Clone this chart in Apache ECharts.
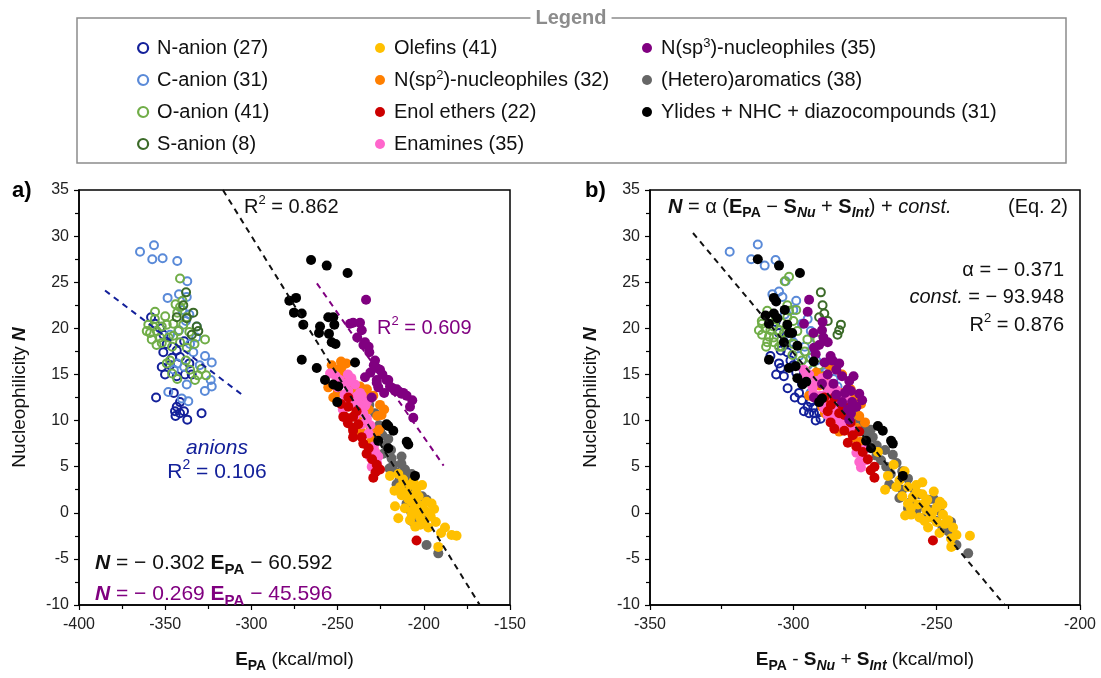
<!DOCTYPE html>
<html><head><meta charset="utf-8">
<script src="https://cdn.jsdelivr.net/npm/echarts@6/dist/echarts.min.js"></script>
<style>html,body{margin:0;padding:0;background:#fff}#c{width:1101px;height:678px}</style>
</head><body><div id="c"></div>
<script>
// ---------- axis ranges / ticks ----------
const xRangeA = [-400, -150];
const xRangeB = [-350, -200];
const yRange = [-10, 35];
const xStep = 50, yStep = 5;

// ---------- series names ----------
const names = ['N-anion (27)','C-anion (31)','O-anion (41)','S-anion (8)',
  'Olefins (41)','N(sp2)-nucleophiles (32)','Enol ethers (22)','Enamines (35)',
  'N(sp3)-nucleophiles (35)','(Hetero)aromatics (38)','Ylides + NHC + diazocompounds (31)'];

// ---------- panel a data [E_PA, N] ----------
const aNanion = [[-358.2,21.2],[-355.9,20.5],[-351,19.3],[-349.1,18.3],[-351.1,17.4],[-343.3,17.6],[-341.4,16.9],[-352,15.8],[-347.2,16.0],[-350.1,15.0],[-343.3,14.8],[-338.5,15.0],[-334.6,15.0],[-355.3,12.5],[-341.4,12.0],[-343.3,11.5],[-344.3,11.0],[-341.4,10.8],[-339.1,11.0],[-337.2,10.1],[-328.9,10.8],[-344,10.5],[-346,16.8],[-339,18.6],[-353,20.0],[-336,16.2],[-345,13.0]];
const aCanion = [[-364.6,28.3],[-356.5,29.0],[-357.5,27.5],[-351.5,27.6],[-343,27.3],[-337.2,25.1],[-348.6,23.3],[-342,23.7],[-337.5,23.4],[-333.7,17.4],[-326.9,17.0],[-323,16.3],[-343,16.2],[-337.5,13.9],[-327,13.2],[-323,13.7],[-323.6,14.4],[-348.2,13.1],[-336.6,12.1],[-340.4,12.4],[-347.2,19.3],[-331.7,20.2],[-335.6,18.3],[-340,22.0],[-339,15.8],[-345,15.5],[-332,19.0],[-338,20.8],[-330,16.0],[-342,19.8],[-336,21.5]];
const aOanion = [[-341.4,25.4],[-355.9,21.8],[-341.4,22.3],[-343,21.7],[-359.8,20.4],[-358.8,19.5],[-357.8,18.8],[-354.9,19.7],[-352,20.2],[-349.1,20.4],[-345.3,20.5],[-342.4,19.7],[-339.5,20.4],[-337.5,21.2],[-345.3,19.2],[-352,18.4],[-341.4,18.5],[-337.5,17.9],[-326.9,18.8],[-347.2,16.5],[-349.1,16.2],[-335.6,15.5],[-332.7,14.4],[-326.3,14.9],[-360.7,19.7],[-356,21.0],[-350,21.3],[-344,22.6],[-340,23.0],[-346,18.0],[-355,18.2],[-348,19.0],[-336,19.6],[-333,18.3],[-329,15.6],[-331,14.9],[-346,15.1],[-343,14.5],[-338,16.5],[-357,20.2],[-353,19.0]];
const aSanion = [[-337.9,23.9],[-339.5,22.5],[-343.3,21.2],[-337.5,21.1],[-333.7,21.7],[-331.7,20.2],[-330.8,19.7],[-334.6,19.3]];
const aOlefins = [[-228.3,6.6],[-219.6,4.0],[-214.8,4.2],[-213.8,2.8],[-212.9,1.9],[-208,3.0],[-204.2,2.6],[-216.7,0.7],[-207,1.2],[-206.1,0.3],[-203.2,0.2],[-202.2,-0.5],[-198.4,1.2],[-195.5,1.0],[-214.8,-0.6],[-197.4,-1.6],[-193,-1.0],[-187.7,-1.6],[-183.9,-2.4],[-181,-2.5],[-191.6,-3.7],[-209,1.5],[-205,-1.5],[-201,0.8],[-211,0.5],[-207,-0.2],[-203,1.8],[-200,-1.0],[-210,2.2],[-206,3.4],[-204,0.9],[-199,0.2],[-196,-0.4],[-202,-1.3],[-208,-0.8],[-212,3.6],[-217,2.4],[-194,0.4],[-190,-2.2],[-205,2.0],[-201,3.0]];
const aNsp2 = [[-253.4,16.0],[-247.7,15.8],[-247.1,15.1],[-255.4,13.6],[-237,13.7],[-229.3,12.7],[-225.4,11.7],[-224.5,10.6],[-246.7,15.0],[-252.5,12.5],[-237,9.9],[-230.2,7.8],[-249,14.5],[-244,14.0],[-240,12.9],[-232,11.2],[-227,10.5],[-234,12.5],[-251,15.5],[-245,16.2],[-242,13.1],[-239,11.0],[-235,10.6],[-231,9.3],[-226,9.0],[-228,8.4],[-233,13.4],[-250,13.0],[-223,11.2],[-236,8.7],[-243,11.8],[-248,16.4]];
const aEnol = [[-243.8,12.5],[-243.8,11.5],[-246.7,10.4],[-241,9.2],[-245.7,10.4],[-241,10.4],[-241,8.9],[-241,8.2],[-235.1,7.5],[-233.2,6.4],[-227.3,5.2],[-225.4,4.7],[-229.3,3.8],[-204.2,-3.0],[-248,11.8],[-238,9.6],[-236,8.2],[-232,7.0],[-230,5.8],[-228,4.4],[-244,9.7],[-239,11.0]];
const aEnamines = [[-254.4,15.1],[-248.6,14.4],[-239.9,13.9],[-243.8,13.2],[-236,12.7],[-241,12.0],[-244.7,10.1],[-235.1,10.8],[-243.8,12.4],[-238,11.3],[-229.3,5.6],[-230.2,5.0],[-226.4,6.1],[-246,12.8],[-241,11.6],[-238,11.9],[-233,10.2],[-231,9.5],[-228,6.5],[-251,14.8],[-245,14.0],[-242,14.6],[-237,13.0],[-247,11.2],[-240,10.5],[-234,11.6],[-232,8.6],[-229,7.2],[-227,5.3],[-250,13.6],[-244,15.0],[-239,12.6],[-236,9.6],[-231,6.0],[-233,12.0]];
const aNsp3 = [[-233.5,23.1],[-242.8,20.5],[-237,20.6],[-238.6,19.0],[-234.1,18.5],[-235,18.2],[-231.6,17.4],[-228.3,16.5],[-227.3,15.7],[-225.4,15.5],[-234.1,14.7],[-227.3,14.4],[-221.6,14.4],[-226.4,13.6],[-219.6,13.7],[-215.7,13.4],[-211.9,13.0],[-206.7,12.2],[-206.1,10.3],[-227.3,14.1],[-220.6,14.4],[-216.7,13.2],[-212.9,12.9],[-230.2,12.5],[-241,20.6],[-236,19.8],[-232,18.0],[-229,16.0],[-224,15.0],[-218,13.5],[-214,13.1],[-210,12.7],[-231,15.2],[-223,13.0],[-208,11.5]];
const aHetero = [[-231.6,11.7],[-228.3,10.8],[-225.4,8.9],[-227.3,7.8],[-220.6,8.0],[-229.3,7.0],[-223.5,6.4],[-218.7,5.9],[-212.9,6.1],[-217.7,5.2],[-210.9,4.7],[-215.8,3.1],[-210.9,3.8],[-209,2.6],[-198.4,1.4],[-207.1,-0.9],[-204.2,-1.2],[-198.4,-3.5],[-191.6,-4.4],[-213,5.3],[-205,1.2],[-202,0.5],[-206,2.2],[-200,-0.8],[-210,1.0],[-232.2,11.2],[-222,7.3],[-219,6.8],[-216,4.4],[-214,3.6],[-212,2.4],[-208,0.3],[-203,-0.3],[-224,8.4],[-226,9.5],[-220,4.8],[-207,4.2],[-201,1.8]];
const aYlides = [[-265.4,27.4],[-256.3,26.8],[-244.2,26.0],[-278,23.0],[-274.1,23.3],[-275.3,21.7],[-270.8,21.6],[-269.9,20.4],[-260.2,20.2],[-255.4,21.2],[-252.5,21.2],[-251.9,20.4],[-260.8,19.5],[-255,19.4],[-253.4,18.5],[-251.2,18.3],[-270.8,16.6],[-262.1,15.7],[-239.9,16.3],[-257.3,14.4],[-252.5,13.9],[-249.6,13.7],[-250.2,12.0],[-221.6,9.6],[-220.6,9.4],[-217.7,8.9],[-226.4,7.8],[-220.6,7.0],[-209.9,7.7],[-209,7.4],[-205.1,4.0]];

// ---------- panel b data [E_PA - S_Nu + S_Int, N] ----------
const bNanion = [[-306.2,20.7],[-304.4,17.6],[-302.1,17.4],[-305,16.2],[-304.4,15.7],[-303.3,14.8],[-299.5,12.5],[-296.3,11.0],[-292.8,10.8],[-292.2,10.0],[-298,13.0],[-294.5,10.8],[-291,10.9],[-290.5,10.2],[-303,18.3],[-301,16.5],[-299,15.2],[-297,14.0],[-295,11.5],[-294,12.0],[-305,19.5],[-308,17.0],[-306,15.0],[-300,16.0],[-302,13.5],[-297,12.2],[-293,11.4]];
const bCanion = [[-322.2,28.3],[-312.4,29.1],[-314.7,27.5],[-306.2,27.4],[-302.7,25.1],[-307.3,23.7],[-303.8,23.4],[-293.9,19.7],[-291.8,18.8],[-293.3,17.1],[-290.4,15.0],[-284.6,13.7],[-286,14.5],[-310,26.8],[-305,24.0],[-300,22.0],[-297,20.5],[-296,18.0],[-298,17.0],[-301,19.0],[-295,16.0],[-292,14.2],[-289,15.2],[-288,13.2],[-303,21.5],[-299,23.0],[-295,21.0],[-292,16.5],[-287,12.5],[-300,18.5],[-294,13.0]];
const bOanion = [[-303,25.1],[-301.5,25.6],[-302.1,22.5],[-301.5,21.9],[-302.1,21.2],[-309.1,21.9],[-310.9,20.5],[-309.7,20.0],[-308,19.8],[-310.9,19.3],[-308.5,19.1],[-306.8,19.0],[-306.8,18.5],[-309.1,18.5],[-305,19.8],[-303.3,19.5],[-298.6,19.7],[-300.3,17.1],[-295.1,18.8],[-291.6,18.8],[-293.3,15.5],[-292.2,15.0],[-290.4,14.8],[-292.8,14.9],[-311,20.8],[-307,20.2],[-304,18.0],[-300,18.3],[-297,16.5],[-306,21.0],[-299,22.0],[-312,19.8],[-308,21.3],[-304,20.6],[-302,19.0],[-300,20.8],[-305,18.0],[-296,17.5],[-294,16.8],[-291,16.0],[-309.5,18.0]];
const bSanion = [[-290.4,23.9],[-289.8,22.5],[-289.2,21.6],[-291,21.2],[-283.4,20.4],[-284,19.8],[-284.6,19.3],[-288,20.8]];
const bOlefins = [[-270.5,6.6],[-267,4.0],[-264.1,2.8],[-261.2,4.5],[-260,2.8],[-258.3,1.7],[-257.1,3.0],[-256.5,0.9],[-258.9,-0.2],[-253.6,0.3],[-253.3,1.4],[-248.9,1.2],[-254.2,-0.9],[-247.8,-0.2],[-247.2,-1.2],[-244.3,-1.6],[-243.1,-2.4],[-238.4,-2.5],[-244.9,-3.7],[-263,3.5],[-259,0.5],[-255,2.0],[-252,-0.5],[-250,0.6],[-246,-0.8],[-251,2.3],[-261,-0.3],[-262,1.8],[-256,-0.5],[-254,1.1],[-250,-1.0],[-248,0.9],[-257,2.2],[-265,5.2],[-268,2.5],[-253,-1.6],[-249,-2.2],[-245,-2.8],[-260,1.0],[-255,3.3],[-251.5,0.0]];
const bNsp2 = [[-294.5,12.7],[-276.4,11.8],[-282.8,9.9],[-276.4,7.7],[-287.5,16.0],[-277.5,12.0],[-289,14.8],[-286,13.5],[-283,13.0],[-281,11.8],[-279,12.3],[-284,11.3],[-287,10.5],[-278,9.2],[-280,9.8],[-291,13.8],[-288,12.2],[-285,10.0],[-282,11.0],[-279,8.2],[-277,10.5],[-290,11.5],[-286,12.0],[-283,15.0],[-281,9.0],[-275,9.8],[-292,15.2],[-289,10.8],[-284,8.8],[-280,13.4],[-286,15.8],[-278,7.2]];
const bEnol = [[-289.2,12.5],[-285.7,12.5],[-286.9,11.7],[-284,10.8],[-282.2,10.6],[-285.7,9.1],[-282.2,8.9],[-279.3,8.4],[-275.8,6.6],[-271.7,5.0],[-271.7,3.8],[-251.3,-3.0],[-287,9.8],[-281,7.6],[-283,11.7],[-280,9.8],[-278,7.2],[-277,8.8],[-274,5.8],[-273,4.6],[-288,11.0],[-280,11.5]];
const bEnamines = [[-295.7,14.8],[-293.3,13.6],[-289.2,13.9],[-287.5,12.7],[-289.2,11.5],[-286.3,11.0],[-284,12.0],[-276.4,4.9],[-274.6,5.7],[-296.3,15.5],[-294.5,15.0],[-288,13.4],[-290.4,12.7],[-289.2,11.3],[-284.6,11.5],[-286.3,10.3],[-282.2,10.4],[-287,14.0],[-283,12.5],[-278,6.5],[-275,6.9],[-292,14.3],[-291,12.2],[-285,13.3],[-282,11.6],[-280,9.2],[-277,5.5],[-293,12.9],[-288,10.6],[-284,10.0],[-290,14.6],[-286,12.5],[-281,12.2],[-276,6.0],[-283,9.5]];
const bNsp3 = [[-294.5,23.1],[-296.3,20.5],[-289.8,20.7],[-289.5,19.0],[-292.8,17.9],[-292.2,17.2],[-286.3,16.5],[-289.1,16.3],[-280.5,14.3],[-281.1,13.4],[-279,14.8],[-279.9,13.2],[-277,12.9],[-292.8,12.5],[-280.5,10.1],[-279.9,10.8],[-288,18.5],[-285,15.5],[-283,14.8],[-287,17.0],[-290,19.8],[-278,11.5],[-283,12.0],[-295,21.8],[-291,18.2],[-286,14.0],[-284,16.2],[-282,13.0],[-276,12.2],[-288,15.0],[-293,19.5],[-290,14.0],[-285,12.8],[-281,11.2],[-279.5,12.0]];
const bHetero = [[-280.5,11.7],[-278.2,10.8],[-274.6,8.7],[-272.3,8.2],[-274,7.5],[-270.9,7.3],[-265.3,6.3],[-269.4,5.7],[-267.6,5.0],[-266.5,3.1],[-260,3.7],[-253,1.4],[-250.1,-0.9],[-243.1,-3.5],[-239,-4.4],[-277,10.2],[-262,4.5],[-258,2.6],[-256,2.0],[-254,0.6],[-252,0.3],[-248,-1.5],[-268,6.8],[-271,6.2],[-264,5.4],[-262,2.5],[-259,1.2],[-257,0.3],[-255,-0.6],[-251,1.5],[-249,0.2],[-246,-2.0],[-276,9.3],[-273,9.0],[-266,4.2],[-263,1.6],[-260,0.5],[-245,-1.0]];
const bYlides = [[-312.4,27.5],[-305,26.8],[-297.7,26.0],[-306.8,23.3],[-306,22.9],[-309.7,21.4],[-306.8,21.6],[-305.6,21.1],[-308.5,20.5],[-302.1,20.4],[-301.5,19.5],[-300.4,19.5],[-303.3,18.5],[-298.6,18.1],[-308.5,16.6],[-301.5,15.7],[-299.2,15.9],[-298.6,14.6],[-296.8,13.9],[-292.9,16.4],[-291,12.0],[-295.5,14.2],[-290,12.4],[-270.5,9.4],[-268.8,8.9],[-274.6,7.8],[-272.9,7.0],[-265.9,7.8],[-265.3,7.5],[-261.8,4.0],[-303,22.0]];

// ---------- regression fits ----------
const fitA = {slope: -0.302, icpt: -60.592, from: -316.5, to: -167.5};
const fitA3 = {slope: -0.269, icpt: -45.596, from: -262, to: -188.5};
const fitAnion = [[-384.9, 24.1], [-304.7, 12.7]];
const fitB = {slope: -0.371, icpt: -93.948, from: -335, to: -226.3};

const colors = ['#13209A','#5A8AD8','#70AD47','#3B6A28','#FFC000','#FF7F00','#CC0000','#FF66CC','#800080','#666666','#000000'];
const isOpen = [true,true,true,true,false,false,false,false,false,false,false];
const dataA = [aNanion,aCanion,aOanion,aSanion,aOlefins,aNsp2,aEnol,aEnamines,aNsp3,aHetero,aYlides];
const dataB = [bNanion,bCanion,bOanion,bSanion,bOlefins,bNsp2,bEnol,bEnamines,bNsp3,bHetero,bYlides];
const drawOrder = [0,1,2,3,9,4,5,7,6,8,10];

const FONT = '"Liberation Sans", Arial, Helvetica, sans-serif';

function richSet(fs, color) {
  const lh = Math.round(fs * 1.35);
  const base = {fontFamily: FONT, fontSize: fs, color: color, lineHeight: lh, verticalAlign: 'middle'};
  return {
    n: Object.assign({}, base),
    b: Object.assign({}, base, {fontWeight: 'bold'}),
    bi: Object.assign({}, base, {fontWeight: 'bold', fontStyle: 'italic'}),
    i: Object.assign({}, base, {fontStyle: 'italic'}),
    bsub: Object.assign({}, base, {fontWeight: 'bold', fontSize: Math.round(fs * 0.72), verticalAlign: 'bottom'}),
    bisub: Object.assign({}, base, {fontWeight: 'bold', fontStyle: 'italic', fontSize: Math.round(fs * 0.72), verticalAlign: 'bottom'}),
    sup: Object.assign({}, base, {fontSize: Math.round(fs * 0.66), verticalAlign: 'top'})
  };
}

function line(fit) {
  return [[fit.from, fit.slope * fit.from + fit.icpt], [fit.to, fit.slope * fit.to + fit.icpt]];
}

const series = [];
[dataA, dataB].forEach(function (set, p) {
  drawOrder.forEach(function (k) {
    series.push({
      type: 'scatter', name: names[k], xAxisIndex: p, yAxisIndex: p,
      data: set[k], symbol: 'circle',
      symbolSize: isOpen[k] ? 8 : 10,
      itemStyle: isOpen[k] ? {color: 'rgba(255,255,255,0)', borderColor: colors[k], borderWidth: 2, opacity: 1} : {color: colors[k], opacity: 1},
      emphasis: {disabled: true}, silent: true, z: 2
    });
  });
});
function dashLine(p, data, color) {
  return {type: 'line', xAxisIndex: p, yAxisIndex: p, data: data, symbol: 'none', silent: true, z: 5,
    lineStyle: {color: color, width: 2, type: [6, 5]}, animation: false};
}
series.push(dashLine(0, line(fitA), '#111'));
series.push(dashLine(0, line(fitA3), '#800080'));
series.push(dashLine(0, fitAnion, '#13209A'));
series.push(dashLine(1, line(fitB), '#111'));

function xAxis(p, range, nameStr) {
  return {
    type: 'value', gridIndex: p, min: range[0], max: range[1], interval: xStep,
    axisLine: {show: true, onZero: false, lineStyle: {color: '#000', width: 1.5}},
    axisTick: {show: true, inside: false, length: 5, lineStyle: {color: '#000', width: 1.2}},
    minorTick: {show: true, splitNumber: 2, length: 4, lineStyle: {color: '#000', width: 1.2}},
    splitLine: {show: false},
    axisLabel: {fontSize: 16, color: '#222', fontFamily: FONT, margin: 12},
    name: nameStr, nameLocation: 'middle', nameGap: 42,
    nameTextStyle: {fontSize: 19, color: '#111', fontFamily: FONT, rich: richSet(19, '#111')}
  };
}
function yAxis(p) {
  return {
    type: 'value', gridIndex: p, min: yRange[0], max: yRange[1], interval: yStep,
    axisLine: {show: true, onZero: false, lineStyle: {color: '#000', width: 1.5}},
    axisTick: {show: true, inside: false, length: 5, lineStyle: {color: '#000', width: 1.2}},
    minorTick: {show: true, splitNumber: 2, length: 4, lineStyle: {color: '#000', width: 1.2}},
    splitLine: {show: false},
    axisLabel: {fontSize: 16, color: '#222', fontFamily: FONT, margin: 10},
    name: 'Nucleophilicity {bi|N}', nameLocation: 'middle', nameGap: 46, nameRotate: 90,
    nameTextStyle: {fontSize: 19, color: '#111', fontFamily: FONT, rich: richSet(19, '#111')}
  };
}

function legendCol(left, list) {
  return {
    orient: 'vertical', left: left, top: 32, itemGap: 10, itemWidth: 10, itemHeight: 10,
    icon: 'circle', selectedMode: false,
    data: list.map(function (k) {
      return {name: names[k], itemStyle: isOpen[k] ? {color: '#fff', borderColor: colors[k], borderWidth: 2.2, opacity: 1} : {color: colors[k], opacity: 1}};
    }),
    formatter: function (n) { return n.replace('sp2', 'sp{sup|2}').replace('sp3', 'sp{sup|3}'); },
    textStyle: {fontSize: 20, color: '#111', fontFamily: FONT, lineHeight: 22, padding: [0, 0, 0, 4],
      rich: {sup: {fontSize: 13, fontFamily: FONT, color: '#111', verticalAlign: 'top', lineHeight: 22}}}
  };
}

function txt(x, y, text, fs, color, align) {
  return {
    type: 'text', x: x, y: y, z: 100, silent: true,
    style: {text: text, fontSize: fs, fontFamily: FONT, fill: color,
      align: align || 'left', verticalAlign: 'middle', textAlign: align || 'left', textVerticalAlign: 'middle',
      rich: richSet(fs, color)}
  };
}

const graphics = [
  {type: 'rect', shape: {x: 77, y: 18, width: 989, height: 145}, z: 0, silent: true,
    style: {fill: 'none', stroke: '#8c8c8c', lineWidth: 1.5}},
  {type: 'text', x: 571, y: 18, z: 101, silent: true,
    style: {text: 'Legend', fontSize: 20, fontWeight: 'bold', fontFamily: FONT, fill: '#8c8c8c',
      backgroundColor: '#fff', padding: [0, 5], align: 'center', textAlign: 'center', verticalAlign: 'middle', textVerticalAlign: 'middle'}},
  {type: 'text', x: 12, y: 191, z: 100, silent: true,
    style: {text: 'a)', fontSize: 22, fontWeight: 'bold', fontFamily: FONT, fill: '#000', verticalAlign: 'middle', textVerticalAlign: 'middle'}},
  {type: 'text', x: 585, y: 191, z: 100, silent: true,
    style: {text: 'b)', fontSize: 22, fontWeight: 'bold', fontFamily: FONT, fill: '#000', verticalAlign: 'middle', textVerticalAlign: 'middle'}},
  txt(244, 207, 'R{sup|2} = 0.862', 20, '#111'),
  txt(377, 328, 'R{sup|2} = 0.609', 20, '#800080'),
  txt(217, 448, '{i|anions}', 21, '#13209A', 'center'),
  txt(217, 472, 'R{sup|2} = 0.106', 21, '#13209A', 'center'),
  txt(95, 563, '{bi|N} = − 0.302 {b|E}{bsub|PA} − 60.592', 21, '#111'),
  txt(95, 594, '{bi|N} = − 0.269 {b|E}{bsub|PA} − 45.596', 21, '#800080'),
  txt(668, 207, '{bi|N} = α ({b|E}{bsub|PA} − {b|S}{bisub|Nu} + {b|S}{bisub|Int}) + {i|const.}', 20, '#111'),
  txt(1068, 207, '(Eq. 2)', 20, '#111', 'right'),
  txt(1064, 270, 'α = − 0.371', 20, '#111', 'right'),
  txt(1064, 297, '{i|const.} = − 93.948', 20, '#111', 'right'),
  txt(1064, 325, 'R{sup|2} = 0.876', 20, '#111', 'right')
];

const chart = echarts.init(document.getElementById('c'), null, {renderer: 'canvas'});
chart.setOption({
  animation: false,
  backgroundColor: '#fff',
  grid: [
    {left: 79, top: 190, width: 431, height: 430.7, show: true, borderColor: '#000', borderWidth: 1.5, containLabel: false},
    {left: 650, top: 190, width: 430, height: 430.7, show: true, borderColor: '#000', borderWidth: 1.5, containLabel: false}
  ],
  xAxis: [xAxis(0, xRangeA, '{b|E}{bsub|PA} (kcal/mol)'),
          xAxis(1, xRangeB, '{b|E}{bsub|PA} - {b|S}{bisub|Nu} + {b|S}{bisub|Int} (kcal/mol)')],
  yAxis: [yAxis(0), yAxis(1)],
  legend: [legendCol(132, [0, 1, 2, 3]), legendCol(370, [4, 5, 6, 7]), legendCol(637, [8, 9, 10])],
  series: series,
  graphic: graphics
});
</script></body></html>
